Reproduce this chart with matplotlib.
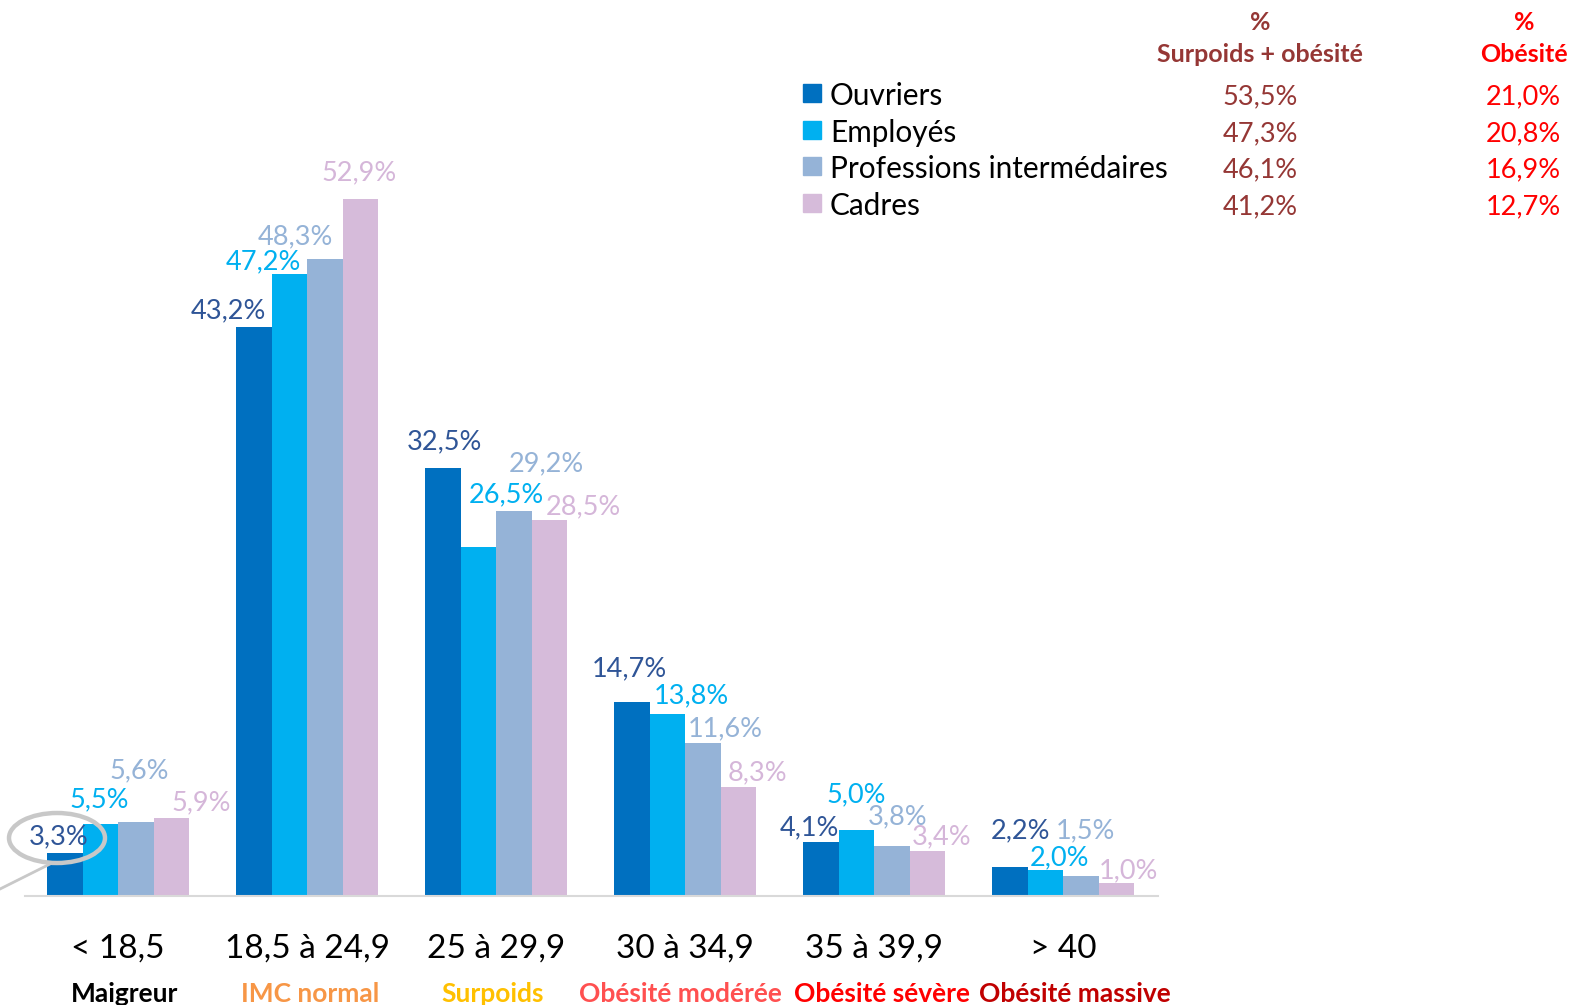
import numpy as np
import matplotlib.pyplot as plt
from matplotlib.patches import Ellipse, Rectangle
from matplotlib.lines import Line2D

plt.rcParams['font.family'] = ['Lato', 'DejaVu Sans']

# --- données ---
categories = ["< 18,5", "18,5 à 24,9", "25 à 29,9", "30 à 34,9", "35 à 39,9", "> 40"]
sublabels = ["Maigreur", "IMC normal", "Surpoids", "Obésité modérée", "Obésité sévère", "Obésité massive"]
series = ["Ouvriers", "Employés", "Professions intermédaires", "Cadres"]
ouvriers = [3.3, 43.2, 32.5, 14.7, 4.1, 2.2]
employes = [5.5, 47.2, 26.5, 13.8, 5.0, 2.0]
prof_inter = [5.6, 48.3, 29.2, 11.6, 3.8, 1.5]
cadres = [5.9, 52.9, 28.5, 8.3, 3.4, 1.0]
surpoids_obesite = ["53,5%", "47,3%", "46,1%", "41,2%"]
obesite = ["21,0%", "20,8%", "16,9%", "12,7%"]

values = [ouvriers, employes, prof_inter, cadres]

# --- styles ---
bar_colors = ['#0070C0', '#00B0F0', '#95B3D7', '#D6BBDA']
label_colors = ['#2F5597', '#00B0F0', '#95B3D7', '#D5B6D9']
sub_colors = ['#000000', '#F79646', '#FFC000', '#FF5050', '#FF0000', '#C00000']
sub_dx = [7, 3, -3, -5, 8, 12]  # décalage des sous-titres (px)
# décalage manuel des étiquettes (dx, dy) en pixels, par série puis groupe
lab_dx = [[-7, -26, 1, -3, -12, 10],
          [-2, -27, 27, 23, -1, 13],
          [2, -30, 32, 22, 5, 4],
          [29, -2, 33, 18, 13, 11]]
lab_dy = [[19, 19, 29, 36, 17, 39],
          [27, 15, 55, 21, 38, 15],
          [54, 26, 50, 17, 32, 48],
          [18, 29, 17, 17, 17, 15]]

W, H = 1572, 1005
base = 896
fig = plt.figure(figsize=(W / 100, H / 100), dpi=100)
ax = fig.add_axes([25 / W, (H - base) / H, 1133 / W, base / H])

bw = 35.5 / 189
x = np.arange(len(categories))
for s, vals in enumerate(values):
    xs = x + (s - 1.5) * bw
    ax.bar(xs, vals, width=bw, color=bar_colors[s], zorder=2)
    for g, v in enumerate(vals):
        ax.annotate(f"{v:.1f}%".replace('.', ','), (xs[g], v),
                    xytext=(lab_dx[s][g] + 1, lab_dy[s][g] - 3), textcoords='offset pixels',
                    ha='center', va='center', fontsize=19.5, color=label_colors[s])

ax.set_xlim(-93 / 189, 1040 / 189)
ax.set_ylim(0, base / 13.18)
for sp in ['top', 'right', 'left']:
    ax.spines[sp].set_visible(False)
ax.spines['bottom'].set_color('#D9D9D9')
ax.spines['bottom'].set_linewidth(1.5)
ax.set_yticks([])
ax.set_xticks(x)
ax.set_xticklabels(categories, fontsize=24)
ax.tick_params(axis='x', length=0, pad=27)

for g, (lab, c) in enumerate(zip(sublabels, sub_colors)):
    ax.annotate(lab, (x[g], 0), xytext=(sub_dx[g], -98), textcoords='offset pixels',
                ha='center', va='center', fontsize=19, fontweight='bold', color=c,
                annotation_clip=False)

# bulle autour de 3,3%
fig.add_artist(Ellipse((57 / W, 1 - 838 / H), 96 / W, 50 / H, transform=fig.transFigure,
                       fill=False, edgecolor='#C8C8C8', linewidth=3.2))
fig.add_artist(Line2D([50 / W, 0], [1 - 864 / H, 1 - 889 / H], transform=fig.transFigure,
                      color='#C8C8C8', linewidth=2))

# légende et tableau
rows_y = [96, 133, 169, 206]
for i, name in enumerate(series):
    fig.add_artist(Rectangle((803 / W, 1 - (rows_y[i] + 6) / H), 18 / W, 18 / H,
                             transform=fig.transFigure, color=bar_colors[i]))
    fig.text(830 / W, 1 - rows_y[i] / H, name, fontsize=21.4, va='center', ha='left')
    fig.text(1260 / W, 1 - (rows_y[i] + 1) / H, surpoids_obesite[i], fontsize=19.5,
             va='center', ha='center', color='#953735')
    fig.text(1523 / W, 1 - (rows_y[i] + 1) / H, obesite[i], fontsize=19.5,
             va='center', ha='center', color='#FF0000')

fig.text(1260 / W, 1 - 22 / H, "%", fontsize=18, fontweight='bold', ha='center', va='center', color='#953735')
fig.text(1260 / W, 1 - 54 / H, "Surpoids + obésité", fontsize=18, fontweight='bold', ha='center', va='center', color='#953735')
fig.text(1524 / W, 1 - 22 / H, "%", fontsize=18, fontweight='bold', ha='center', va='center', color='#FF0000')
fig.text(1524 / W, 1 - 54 / H, "Obésité", fontsize=18, fontweight='bold', ha='center', va='center', color='#FF0000')

fig.savefig("out.png", dpi=100)
